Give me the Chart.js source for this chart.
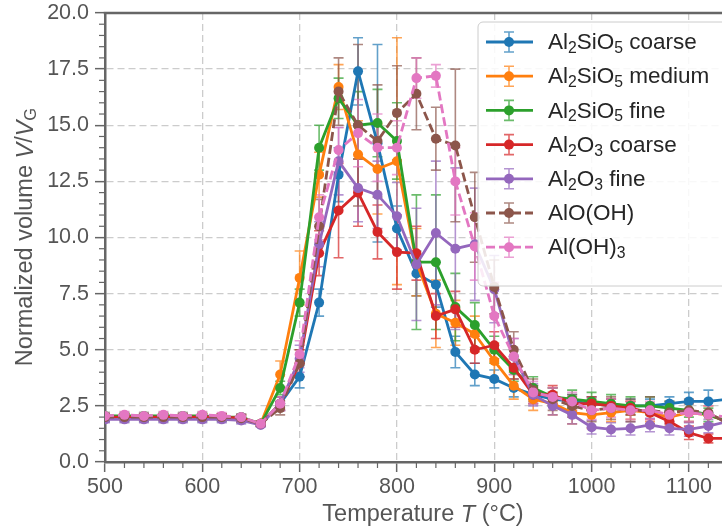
<!DOCTYPE html>
<html>
<head>
<meta charset="utf-8">
<script src="https://cdn.jsdelivr.net/npm/chart.js@4.4.0/dist/chart.umd.min.js"></script>
<style>
  html, body { margin: 0; padding: 0; background: #fff; }
  #wrap { width: 722px; height: 531px; }
</style>
</head>
<body>
<div id="wrap"><canvas id="chart" width="722" height="531"></canvas></div>
<script>
// temperature (°C)
const temps = [500, 520, 540, 560, 580, 600, 620, 640, 660, 680, 700, 720, 740, 760, 780, 800, 820,
    840, 860, 880, 900, 920, 940, 960, 980, 1000, 1020, 1040, 1060, 1080, 1100, 1120, 1140];

const labels = ['Al_2SiO_5 coarse', 'Al_2SiO_5 medium', 'Al_2SiO_5 fine', 'Al_2O_3 coarse',
    'Al_2O_3 fine', 'AlO(OH)', 'Al(OH)_3'];
const colors = ['#1f77b4', '#ff7f0e', '#2ca02c', '#d62728', '#9467bd', '#8c564b', '#e377c2'];
const dashed = [false, false, false, false, false, true, true];

const sioCoarse = [1.95, 1.95, 1.95, 1.95, 1.95, 1.95, 1.95, 1.9, 1.7, 2.6, 3.8, 7.1, 12.8, 17.4, 14.2, 10.4, 8.4,
    7.9, 4.9, 3.9, 3.7, 3.3, 3.0, 2.8, 2.7, 2.6, 2.5, 2.5, 2.5, 2.6, 2.7, 2.7, 2.8];
const sioMedium = [2.0, 2.0, 2.0, 2.0, 2.0, 2.0, 2.0, 1.95, 1.7, 3.9, 8.2, 12.8, 16.7, 13.7, 13.05, 13.4, 8.9,
    6.6, 6.2, 5.7, 4.5, 3.4, 2.8, 2.6, 2.2, 2.1, 2.2, 2.3, 2.2, 2.0, 2.2, 2.1, 1.8];
const sioFine = [2.05, 2.05, 2.05, 2.05, 2.05, 2.05, 2.0, 2.0, 1.7, 3.3, 7.1, 14.0, 16.2, 15.0, 15.1, 14.3, 8.9,
    8.9, 6.9, 6.1, 5.0, 4.1, 3.3, 2.9, 2.8, 2.7, 2.6, 2.5, 2.5, 2.4, 2.3, 2.1, 1.8];
const aloCoarse = [2.0, 2.0, 2.0, 2.0, 2.0, 2.0, 2.0, 1.95, 1.7, 2.6, 4.4, 9.3, 11.2, 12.0, 10.25, 9.35, 9.3,
    6.5, 6.8, 5.0, 5.2, 4.2, 3.0, 3.0, 2.6, 2.6, 2.5, 2.4, 2.2, 1.8, 1.3, 1.05, 1.05];
const aloFine = [1.9, 1.9, 1.9, 1.9, 1.9, 1.9, 1.9, 1.85, 1.65, 2.6, 4.6, 9.7, 13.4, 12.2, 11.9, 10.95, 8.8,
    10.2, 9.5, 9.7, 7.7, 4.7, 3.0, 2.5, 2.1, 1.55, 1.45, 1.5, 1.65, 1.5, 1.45, 1.6, 1.8];
const boehmite = [2.0, 2.0, 2.0, 2.0, 2.0, 2.0, 2.0, 1.95, 1.7, 2.4, 4.4, 10.5, 16.5, 15.0, 14.3, 15.55, 16.4,
    14.4, 14.1, 10.9, 7.8, 5.0, 3.2, 2.8, 2.5, 2.3, 2.4, 2.3, 2.3, 2.2, 2.3, 2.2, 1.7];
const gibbsite = [2.05, 2.1, 2.05, 2.1, 2.05, 2.1, 2.05, 2.0, 1.7, 2.6, 4.8, 10.9, 13.9, 14.65, 14.0, 14.0, 17.1,
    17.2, 12.5, 9.6, 6.5, 4.7, 3.1, 2.9, 2.7, 2.3, 2.4, 2.3, 2.3, 2.1, 2.2, 2.1, 2.0];

// error bars (+/-)
const errSioCoarse = [0.15, 0.15, 0.15, 0.15, 0.15, 0.15, 0.15, 0.15, 0.1, 0.3, 0.5, 0.6, 1.2, 1.5, 4.4, 1.0, 1.0,
    1.0, 0.7, 0.5, 0.4, 0.4, 0.4, 0.3, 0.3, 0.3, 0.3, 0.3, 0.3, 0.3, 0.4, 0.5, 0.4];
const errSioMedium = [0.15, 0.15, 0.15, 0.15, 0.15, 0.15, 0.15, 0.15, 0.1, 0.6, 1.2, 1.0, 1.0, 1.5, 2.0, 5.5, 1.5,
    1.5, 1.0, 0.8, 0.8, 0.6, 0.5, 0.5, 0.5, 0.6, 0.4, 0.4, 0.4, 0.4, 0.4, 0.4, 0.4];
const errSioFine = [0.15, 0.15, 0.15, 0.15, 0.15, 0.15, 0.15, 0.15, 0.1, 0.3, 0.6, 1.0, 0.9, 1.5, 1.5, 1.7, 3.0,
    3.0, 1.5, 1.0, 0.6, 0.5, 0.5, 0.4, 0.4, 0.4, 0.4, 0.4, 0.4, 0.3, 0.3, 0.3, 0.3];
const errAloCoarse = [0.15, 0.15, 0.15, 0.15, 0.15, 0.15, 0.15, 0.15, 0.1, 0.3, 0.6, 1.0, 2.1, 1.5, 1.2, 1.65, 1.2,
    1.0, 0.8, 0.6, 0.6, 0.5, 0.4, 0.4, 0.3, 0.3, 0.3, 0.3, 0.3, 0.3, 0.3, 0.2, 0.2];
const errAloFine = [0.15, 0.15, 0.15, 0.15, 0.15, 0.15, 0.15, 0.15, 0.1, 0.3, 0.6, 1.0, 1.5, 1.5, 1.5, 1.5, 2.5,
    3.2, 3.6, 2.5, 1.5, 0.8, 0.5, 0.4, 0.4, 0.3, 0.3, 0.3, 0.3, 0.3, 0.3, 0.3, 0.3];
const errBoehmite = [0.15, 0.15, 0.15, 0.15, 0.15, 0.15, 0.15, 0.15, 0.1, 0.3, 0.6, 1.2, 1.5, 3.6, 2.5, 2.1, 1.6,
    1.4, 3.4, 2.0, 1.2, 0.8, 0.5, 0.5, 0.5, 0.5, 0.5, 0.5, 0.6, 0.5, 0.5, 0.5, 0.4];
const errGibbsite = [0.15, 0.15, 0.15, 0.15, 0.15, 0.15, 0.15, 0.15, 0.1, 0.3, 0.6, 1.0, 1.0, 1.5, 1.5, 1.2, 0.9,
    0.5, 1.5, 1.5, 1.5, 0.8, 0.5, 0.4, 0.4, 0.4, 0.4, 0.4, 0.4, 0.4, 0.4, 0.4, 0.4];

const xTicks = [500, 600, 700, 800, 900, 1000, 1100];
const yTicks = [0, 2.5, 5, 7.5, 10, 12.5, 15, 17.5, 20];

const series = [sioCoarse, sioMedium, sioFine, aloCoarse, aloFine, boehmite, gibbsite];
const errors = [errSioCoarse, errSioMedium, errSioFine, errAloCoarse, errAloFine, errBoehmite, errGibbsite];

const FONT = "'Liberation Sans', Arial, sans-serif";
const GREY = '#555555';
const SPINE = '#666666';

function withAlpha(hex, a) {
    const n = parseInt(hex.slice(1), 16);
    return 'rgba(' + (n >> 16) + ',' + ((n >> 8) & 255) + ',' + (n & 255) + ',' + a + ')';
}

// text like "Al_2SiO_5" -> pieces with subscripts
function splitSub(text) {
    const parts = [];
    let buf = '';
    for (let i = 0; i < text.length; i++) {
        if (text[i] === '_') {
            if (buf) parts.push([buf, false]);
            buf = '';
            parts.push([text[i + 1], true]);
            i++;
        } else {
            buf += text[i];
        }
    }
    if (buf) parts.push([buf, false]);
    return parts;
}

// pieces: [text, style] with style '', 'i' (italic) or 's' (subscript)
function drawPieces(ctx, pieces, x, y, size, align) {
    const fontFor = st => (st === 'i' ? 'italic ' : '') + (st === 's' ? size * 0.7 : size) + 'px ' + FONT;
    let total = 0;
    pieces.forEach(p => { ctx.font = fontFor(p[1]); total += ctx.measureText(p[0]).width; });
    let cx = align === 'center' ? x - total / 2 : x;
    ctx.textAlign = 'left';
    ctx.textBaseline = 'middle';
    pieces.forEach(p => {
        ctx.font = fontFor(p[1]);
        ctx.fillText(p[0], cx, p[1] === 's' ? y + size * 0.25 : y);
        cx += ctx.measureText(p[0]).width;
    });
}

const extras = {
    id: 'extras',
    beforeDatasetsDraw(chart) {
        const ctx = chart.ctx, xs = chart.scales.x, ys = chart.scales.y, a = chart.chartArea;
        ctx.save();
        ctx.beginPath();
        ctx.rect(a.left, a.top - 10, a.right - a.left, a.bottom - a.top + 10);
        ctx.clip();
        ctx.lineWidth = 1.6;
        series.forEach((vals, s) => {
            ctx.strokeStyle = withAlpha(colors[s], 0.7);
            vals.forEach((v, i) => {
                const e = errors[s][i];
                const px = xs.getPixelForValue(temps[i]);
                const y1 = ys.getPixelForValue(v - e), y2 = ys.getPixelForValue(v + e);
                ctx.beginPath();
                ctx.moveTo(px, y1); ctx.lineTo(px, y2);
                ctx.moveTo(px - 5, y1); ctx.lineTo(px + 5, y1);
                ctx.moveTo(px - 5, y2); ctx.lineTo(px + 5, y2);
                ctx.stroke();
            });
        });
        ctx.restore();
    },
    afterDraw(chart) {
        const ctx = chart.ctx, xs = chart.scales.x, ys = chart.scales.y, a = chart.chartArea;
        ctx.save();
        // top spine
        ctx.strokeStyle = SPINE;
        ctx.lineWidth = 2.5;
        ctx.beginPath();
        ctx.moveTo(a.left - 1.25, a.top); ctx.lineTo(a.right, a.top);
        ctx.stroke();
        // minor ticks
        ctx.lineWidth = 1.2;
        for (let t = 520; t <= 1120; t += 20) {
            if (t % 100 === 0) continue;
            const px = xs.getPixelForValue(t);
            ctx.beginPath(); ctx.moveTo(px, a.bottom); ctx.lineTo(px, a.bottom + 6); ctx.stroke();
        }
        for (let v = 0.5; v < 20; v += 0.5) {
            if (Math.abs(v / 2.5 - Math.round(v / 2.5)) < 1e-6) continue;
            const py = ys.getPixelForValue(v);
            ctx.beginPath(); ctx.moveTo(a.left, py); ctx.lineTo(a.left - 6, py); ctx.stroke();
        }

        // legend
        const lx = 478, ly = 22, lw = 270, lh = 264, r = 5;
        ctx.fillStyle = 'rgba(255,255,255,0.85)';
        ctx.strokeStyle = '#cccccc';
        ctx.lineWidth = 1;
        ctx.beginPath();
        ctx.moveTo(lx + r, ly);
        ctx.lineTo(lx + lw, ly);
        ctx.lineTo(lx + lw, ly + lh);
        ctx.lineTo(lx + r, ly + lh);
        ctx.arcTo(lx, ly + lh, lx, ly + lh - r, r);
        ctx.lineTo(lx, ly + r);
        ctx.arcTo(lx, ly, lx + r, ly, r);
        ctx.closePath();
        ctx.fill();
        ctx.stroke();
        labels.forEach((lab, i) => {
            const cy = 42 + i * 34.2;
            ctx.strokeStyle = withAlpha(colors[i], 0.7);
            ctx.lineWidth = 1.6;
            ctx.setLineDash([]);
            ctx.beginPath();
            ctx.moveTo(509, cy - 10); ctx.lineTo(509, cy + 10);
            ctx.moveTo(504, cy - 10); ctx.lineTo(514, cy - 10);
            ctx.moveTo(504, cy + 10); ctx.lineTo(514, cy + 10);
            ctx.stroke();
            ctx.strokeStyle = colors[i];
            ctx.lineWidth = 2.8;
            ctx.setLineDash(dashed[i] ? [9, 4] : []);
            ctx.beginPath(); ctx.moveTo(486, cy); ctx.lineTo(533, cy); ctx.stroke();
            ctx.setLineDash([]);
            ctx.fillStyle = colors[i];
            ctx.beginPath(); ctx.arc(509, cy, 5, 0, Math.PI * 2); ctx.fill();
            ctx.fillStyle = '#262626';
            drawPieces(ctx, splitSub(lab).map(p => [p[0], p[1] ? 's' : '']), 548, cy + 1, 22.5, 'left');
        });

        // axis titles
        ctx.fillStyle = GREY;
        drawPieces(ctx, [['Temperature ', ''], ['T', 'i'], [' (°C)', '']], 423, 515, 23.5, 'center');
        ctx.translate(26, 237);
        ctx.rotate(-Math.PI / 2);
        drawPieces(ctx, [['Normalized volume ', ''], ['V', 'i'], ['/', ''], ['V', 'i'], ['G', 's']], 0, 0, 23.5, 'center');
        ctx.restore();
    }
};

const datasets = series.map((vals, i) => ({
    label: labels[i].replace(/_/g, ''),
    data: temps.map((t, j) => ({ x: t, y: vals[j] })),
    borderColor: colors[i],
    backgroundColor: colors[i],
    borderWidth: 2.8,
    borderDash: dashed[i] ? [9, 4] : [],
    pointRadius: 5,
    pointBorderWidth: 0,
    pointHoverRadius: 5,
    tension: 0,
    order: -i
}));

new Chart(document.getElementById('chart'), {
    type: 'line',
    data: { datasets: datasets },
    plugins: [extras],
    options: {
        responsive: false,
        animation: false,
        events: [],
        layout: { autoPadding: false, padding: { top: 13, left: 0, right: 0, bottom: 0 } },
        plugins: { legend: { display: false }, tooltip: { enabled: false } },
        scales: {
            x: {
                type: 'linear',
                min: 500,
                max: 1134,
                afterFit: s => { s.height = 69; s.paddingLeft = 0; s.paddingRight = 0; },
                afterBuildTicks: s => { s.ticks = xTicks.map(v => ({ value: v })); },
                ticks: { color: GREY, font: { family: FONT, size: 21.5 }, padding: 2, maxRotation: 0,
                    callback: v => String(v) },
                grid: { color: '#cccccc', lineWidth: 1.3, tickLength: 10, tickColor: SPINE, tickWidth: 1.5 },
                border: { color: SPINE, width: 2.5, dash: [7, 4] }
            },
            y: {
                min: 0,
                max: 20,
                afterFit: s => { s.width = 105; s.paddingTop = 0; s.paddingBottom = 0; },
                afterBuildTicks: s => { s.ticks = yTicks.map(v => ({ value: v })); },
                ticks: { color: GREY, font: { family: FONT, size: 21.5 }, padding: 6,
                    callback: v => v.toFixed(1) },
                grid: { color: '#cccccc', lineWidth: 1.3, tickLength: 10, tickColor: SPINE, tickWidth: 1.5 },
                border: { color: SPINE, width: 2.5, dash: [7, 4] }
            }
        }
    }
});
</script>
</body>
</html>
